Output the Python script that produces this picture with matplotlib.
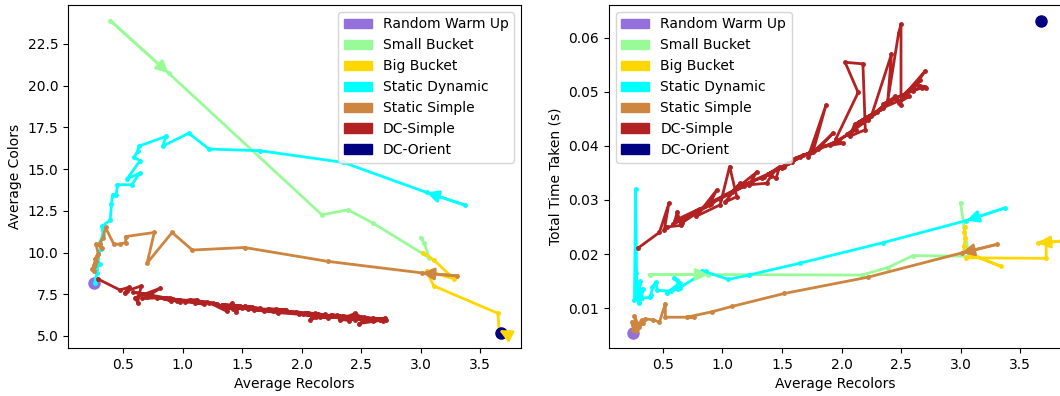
import matplotlib
matplotlib.use("Agg")
import matplotlib.pyplot as plt
import matplotlib.patches as mpatches

# -----------------------------
# Data
# -----------------------------
names = ["Random Warm Up", "Small Bucket", "Big Bucket", "Static Dynamic",
         "Static Simple", "DC-Simple", "DC-Orient"]
colors = ["mediumpurple", "palegreen", "gold", "cyan", "peru", "firebrick", "navy"]
show_arrow = [False, True, True, True, True, False, False]

warm_x = [0.25]
warm_colors = [8.18]
warm_time = [0.0053]

small_x = [0.39, 0.88, 2.17, 2.39, 2.60, 3.07, 3.03, 3.00]
small_colors = [23.9, 20.75, 12.26, 12.56, 11.76, 9.7, 10.6, 10.9]
small_time = [0.0162, 0.0162, 0.0161, 0.0175, 0.0197, 0.0196, 0.0250, 0.0295]

big_x_colors = [3.74, 3.66, 3.65, 3.11, 3.05, 3.28, 3.11, 3.02]
big_colors = [5.06, 5.35, 6.36, 8.0, 8.9, 8.42, 9.56, 10.0]
big_x_time = [3.95, 3.65, 3.72, 3.72, 3.05, 3.10, 3.34, 3.03, 3.03, 3.04, 3.03, 3.04]
big_time = [0.0226, 0.0220, 0.0226, 0.0192, 0.0193, 0.0198, 0.0177, 0.0205,
            0.0215, 0.0230, 0.0240, 0.0250]

dyn_x = [3.37, 3.05, 2.35, 1.65, 1.22, 1.05, 0.83, 0.86, 0.63, 0.62, 0.59, 0.64,
         0.53, 0.64, 0.57, 0.45, 0.44, 0.41, 0.40, 0.39, 0.32, 0.33, 0.30, 0.31,
         0.29, 0.28, 0.30, 0.27, 0.28, 0.27, 0.26]
dyn_colors = [12.85, 13.6, 15.4, 16.1, 16.2, 17.15, 16.37, 16.96, 16.37, 16.07,
              15.7, 15.5, 14.4, 14.77, 14.06, 14.06, 13.46, 13.46, 12.9, 11.95,
              11.56, 11.06, 10.6, 10.2, 9.9, 9.6, 9.3, 9.0, 8.8, 8.5, 8.2]
dyn_time = [0.0285, 0.0262, 0.0221, 0.0183, 0.0161, 0.0153, 0.0169, 0.0168,
            0.0136, 0.0151, 0.0156, 0.0146, 0.0128, 0.0138, 0.0131, 0.0133,
            0.0148, 0.0139, 0.0125, 0.0120, 0.0118, 0.0135, 0.0112, 0.0150,
            0.0118, 0.0130, 0.0110, 0.0165, 0.0120, 0.0320, 0.0115]

simple_x = [3.31, 3.01, 2.22, 1.52, 1.08, 0.91, 0.70, 0.76, 0.52, 0.52, 0.47,
            0.42, 0.35, 0.33, 0.30, 0.32, 0.27, 0.29, 0.26, 0.28, 0.25, 0.27,
            0.24, 0.26, 0.25]
simple_colors = [8.6, 8.78, 9.47, 10.3, 10.15, 11.2, 9.37, 11.2, 10.96, 10.6,
                 10.5, 10.5, 11.5, 10.9, 10.5, 10.3, 10.5, 9.9, 9.6, 9.8, 9.2,
                 9.5, 9.0, 9.3, 8.9]
simple_time = [0.0218, 0.0202, 0.0157, 0.0127, 0.0103, 0.0093, 0.0083, 0.0083,
               0.0083, 0.0108, 0.0074, 0.0078, 0.0080, 0.0072, 0.0065, 0.0078,
               0.0060, 0.0070, 0.0085, 0.0062, 0.0068, 0.0058, 0.0075, 0.0065,
               0.0060]

dc_x = [0.29, 0.47, 0.55, 0.51, 0.53, 0.65, 0.62, 0.60, 0.81, 0.70, 0.66, 0.89,
        0.95, 0.78, 0.98, 1.06, 1.12, 1.02, 1.15, 1.08, 1.29, 1.22, 1.37, 1.41,
        1.45, 1.48, 1.33, 1.58, 1.52, 1.65, 1.60, 1.76, 1.87, 1.72, 1.93, 1.82,
        2.01, 1.95, 2.14, 2.03, 2.18, 2.20, 2.07, 2.11, 2.27, 2.15, 2.35, 2.25,
        2.42, 2.39, 2.48, 2.50, 2.50, 2.45, 2.32, 2.57, 2.48, 2.66, 2.55, 2.70,
        2.60, 2.71, 2.62,
        2.52, 2.35, 2.40, 2.22, 2.05, 2.12, 1.90, 1.78, 1.62, 1.68, 1.50, 1.38,
        1.42, 1.25, 1.10, 1.18, 0.98, 0.85, 0.90, 0.72, 0.58,
        0.68, 0.92, 1.20, 1.35, 1.55, 1.80, 1.98, 2.22, 2.30, 2.45, 2.60, 2.68,
        2.64, 2.70]
dc_colors = [8.40, 7.76, 7.92, 7.58, 7.70, 8.00, 7.00, 7.30, 7.86, 7.36, 7.25,
             7.30, 7.12, 7.30, 7.05, 7.18, 7.16, 7.02, 7.06, 7.10, 6.92, 7.00,
             6.48, 6.96, 6.42, 6.82, 6.88, 6.72, 6.80, 6.66, 6.58, 6.48, 6.58,
             6.62, 6.42, 6.52, 6.34, 6.45, 6.30, 6.38, 6.24, 6.30, 5.96, 6.36,
             6.18, 6.12, 6.10, 6.28, 6.14, 6.02, 6.08, 6.00, 6.12, 6.36, 5.96,
             6.00, 5.74, 5.94, 6.06, 6.04, 5.88, 5.98, 6.02,
             6.14, 6.20, 5.92, 6.22, 6.40, 6.16, 6.44, 6.60, 6.62, 6.50, 6.70,
             6.80, 6.62, 6.95, 7.00, 6.90, 7.14, 7.25, 7.10, 7.45, 7.62,
             7.52, 7.20, 7.05, 6.72, 6.62, 6.40, 6.30, 6.10, 6.24, 5.98, 6.08,
             5.92, 6.00, 6.08]
dc_time = [0.0211, 0.0240, 0.0294, 0.0244, 0.0250, 0.0253, 0.0278, 0.0262,
           0.0284, 0.0269, 0.0258, 0.0291, 0.0318, 0.0270, 0.0291, 0.0362,
           0.0306, 0.0296, 0.0331, 0.0315, 0.0352, 0.0328, 0.0331, 0.0345,
           0.0340, 0.0362, 0.0340, 0.0370, 0.0362, 0.0380, 0.0375, 0.0389,
           0.0476, 0.0380, 0.0424, 0.0398, 0.0405, 0.0412, 0.0499, 0.0555,
           0.0552, 0.0430, 0.0418, 0.0440, 0.0461, 0.0445, 0.0470, 0.0455,
           0.0570, 0.0486, 0.0609, 0.0625, 0.0476, 0.0492, 0.0468, 0.0492,
           0.0480, 0.0522, 0.0500, 0.0538, 0.0505, 0.0508, 0.0515,
           0.0495, 0.0478, 0.0482, 0.0452, 0.0422, 0.0430, 0.0402, 0.0392,
           0.0378, 0.0383, 0.0360, 0.0348, 0.0352, 0.0335, 0.0318, 0.0325,
           0.0302, 0.0288, 0.0292, 0.0272, 0.0255,
           0.0265, 0.0298, 0.0330, 0.0343, 0.0368, 0.0395, 0.0410, 0.0448,
           0.0462, 0.0488, 0.0502, 0.0508, 0.0512, 0.0510]

orient_x = [3.68]
orient_colors = [5.15]
orient_time = [0.0632]

left_series = [
    (warm_x, warm_colors), (small_x, small_colors), (big_x_colors, big_colors),
    (dyn_x, dyn_colors), (simple_x, simple_colors), (dc_x, dc_colors),
    (orient_x, orient_colors),
]
right_series = [
    (warm_x, warm_time), (small_x, small_time), (big_x_time, big_time),
    (dyn_x, dyn_time), (simple_x, simple_time), (dc_x, dc_time),
    (orient_x, orient_time),
]


def draw(ax, series):
    for (xs, ys), c, arrow in zip(series, colors, show_arrow):
        if len(xs) == 1:
            ax.plot(xs, ys, 'o', color=c, markersize=8)
            continue
        ax.plot(xs, ys, '-o', color=c, linewidth=2, markersize=2.5)
        if arrow:
            # direction arrow on the first step
            ax.annotate('', xy=(xs[1], ys[1]), xytext=(xs[0], ys[0]),
                        arrowprops=dict(arrowstyle='-|>', color=c, lw=2,
                                        mutation_scale=18, shrinkA=0, shrinkB=0))


fig = plt.figure(figsize=(10.6, 3.96), dpi=100)
ax1 = fig.add_axes([0.0642, 0.1212, 0.4274, 0.8662])
ax2 = fig.add_axes([0.5745, 0.1212, 0.4274, 0.8662])

draw(ax1, left_series)
draw(ax2, right_series)

handles = [mpatches.Patch(color=c, label=n) for n, c in zip(names, colors)]

ax1.set_xlim(0.035, 3.845)
ax1.set_ylim(4.28, 24.83)
ax1.set_xlabel("Average Recolors")
ax1.set_ylabel("Average Colors")
ax1.legend(handles=handles, loc='upper right')

ax2.set_xlim(0.046, 3.853)
ax2.set_ylim(0.0026, 0.0661)
ax2.set_xlabel("Average Recolors")
ax2.set_ylabel("Total Time Taken (s)")
ax2.legend(handles=handles, loc='upper left')

fig.savefig("out.png", dpi=100)
